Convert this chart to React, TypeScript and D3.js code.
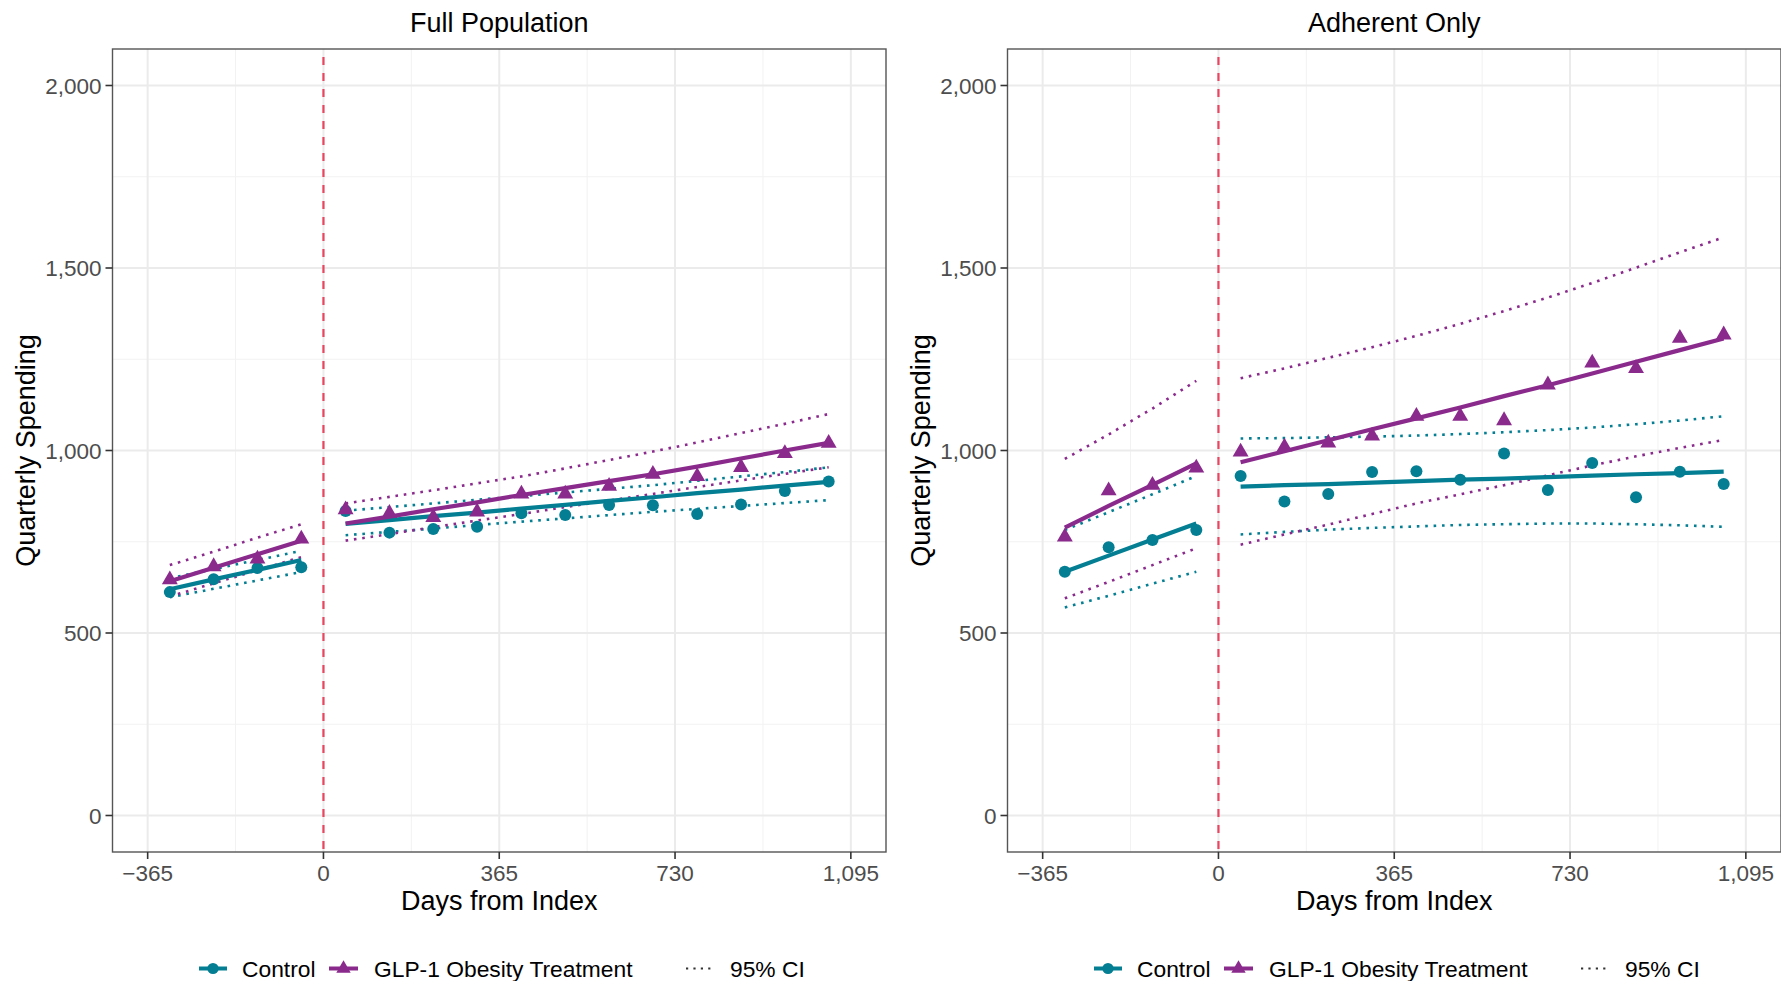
import React from 'react';
import * as d3 from 'd3';

// ---------- data ----------
const preDays = [-319, -228, -137, -46];
const postDays = [46, 137, 228, 319, 411, 502, 593, 684, 776, 867, 958, 1049];
const xTicks = [-365, 0, 365, 730, 1095];
const xMinor = [-182.5, 182.5, 547.5, 912.5];
const yTicks = [0, 500, 1000, 1500, 2000];
const yMinor = [250, 750, 1250, 1750];
const panelTitles = ['Full Population', 'Adherent Only'];
const legendLabels = ['Control', 'GLP-1 Obesity Treatment', '95% CI'];

// Full population
const fullControlPts = [612, 647, 678, 680, 834, 775, 785, 791, 828, 823, 851, 850, 826, 852, 889, 915];
const fullGlpPts = [646, 682, 703, 758, 838, 828, 817, 832, 881, 881, 902, 935, 929, 954, 992, 1020];
const fullControlFitPre = [620, 647, 673, 700];
const fullControlFitPost = [799, 809, 820, 830, 841, 851, 862, 872, 883, 893, 904, 914];
const fullGlpFitPre = [642, 679, 716, 753];
const fullGlpFitPost = [800, 819, 839, 858, 878, 897, 916, 935, 956, 978, 1000, 1021];
const fullControlLoPre = [598, 621, 644, 667];
const fullControlLoPost = [768, 777, 786, 796, 805, 814, 823, 832, 840, 848, 856, 864];
const fullControlHiPre = [650, 675, 700, 725];
const fullControlHiPost = [835, 845, 855, 865, 875, 885, 895, 905, 917, 929, 941, 954];
const fullGlpLoPre = [600, 636, 672, 708];
const fullGlpLoPost = [753, 771, 790, 808, 826, 845, 863, 881, 900, 918, 936, 954];
const fullGlpHiPre = [686, 723, 761, 798];
const fullGlpHiPost = [855, 873, 891, 910, 929, 951, 974, 997, 1022, 1048, 1073, 1100];

// Adherent only
const adhControlPts = [668, 735, 755, 782, 930, 860, 881, 941, 943, 920, 992, 892, 966, 872, 942, 908];
const adhGlpPts = [763, 890, 905, 952, 996, 1010, 1021, 1040, 1094, 1094, 1082, 1180, 1240, 1225, 1308, 1317];
const adhControlFitPre = [668, 712, 756, 800];
const adhControlFitPost = [901, 905, 908, 912, 916, 920, 923, 927, 931, 935, 938, 942];
const adhGlpFitPre = [789, 848, 906, 965];
const adhGlpFitPost = [968, 998, 1028, 1058, 1088, 1118, 1149, 1179, 1211, 1243, 1275, 1307];
const adhControlLoPre = [570, 602, 635, 668];
const adhControlLoPost = [770, 777, 783, 788, 792, 796, 798, 800, 800, 798, 795, 791];
const adhControlHiPre = [782, 831, 880, 930];
const adhControlHiPost = [1033, 1034, 1036, 1038, 1041, 1045, 1050, 1056, 1063, 1072, 1082, 1094];
const adhGlpLoPre = [595, 640, 686, 732];
const adhGlpLoPost = [742, 770, 797, 826, 855, 880, 905, 932, 959, 984, 1007, 1029];
const adhGlpHiPre = [977, 1044, 1115, 1191];
const adhGlpHiPost = [1198, 1225, 1254, 1283, 1314, 1347, 1382, 1419, 1459, 1501, 1543, 1584];

// ---------- style ----------
const TEAL = '#037E93';
const PURPLE = '#8B2A8D';
const RED = '#E8455F';
const FONT = '"Liberation Sans", Arial, Helvetica, sans-serif';

const W = 1781;
const H = 981;
const PANEL_W = 773.5;
const PANEL_TOP = 49;
const PANEL_BOTTOM = 852;
const PANEL_LEFTS = [112.5, 1007.5];

type Series = { pre: number[]; post: number[] };
type PanelData = {
  title: string;
  controlPts: number[];
  glpPts: number[];
  controlFit: Series;
  glpFit: Series;
  controlLo: Series;
  controlHi: Series;
  glpLo: Series;
  glpHi: Series;
};

const panels: PanelData[] = [
  {
    title: panelTitles[0],
    controlPts: fullControlPts,
    glpPts: fullGlpPts,
    controlFit: { pre: fullControlFitPre, post: fullControlFitPost },
    glpFit: { pre: fullGlpFitPre, post: fullGlpFitPost },
    controlLo: { pre: fullControlLoPre, post: fullControlLoPost },
    controlHi: { pre: fullControlHiPre, post: fullControlHiPost },
    glpLo: { pre: fullGlpLoPre, post: fullGlpLoPost },
    glpHi: { pre: fullGlpHiPre, post: fullGlpHiPost },
  },
  {
    title: panelTitles[1],
    controlPts: adhControlPts,
    glpPts: adhGlpPts,
    controlFit: { pre: adhControlFitPre, post: adhControlFitPost },
    glpFit: { pre: adhGlpFitPre, post: adhGlpFitPost },
    controlLo: { pre: adhControlLoPre, post: adhControlLoPost },
    controlHi: { pre: adhControlHiPre, post: adhControlHiPost },
    glpLo: { pre: adhGlpLoPre, post: adhGlpLoPost },
    glpHi: { pre: adhGlpHiPre, post: adhGlpHiPost },
  },
];

const fmt = d3.format(',');
const allDays = [...preDays, ...postDays];

function Panel({ data, left }: { data: PanelData; left: number }) {
  const x = d3.scaleLinear().domain([-438, 1168]).range([left, left + PANEL_W]);
  const y = d3.scaleLinear().domain([-100, 2100]).range([PANEL_BOTTOM, PANEL_TOP]);
  const line = d3
    .line<[number, number]>()
    .x((d) => x(d[0]))
    .y((d) => y(d[1]));
  const seg = (days: number[], vals: number[]) =>
    line(days.map((d, i) => [d, vals[i]] as [number, number])) || '';
  const segs = (s: Series) => [seg(preDays, s.pre), seg(postDays, s.post)];
  const tri = d3.symbol(d3.symbolTriangle, 110)() || '';
  const cx = left + PANEL_W / 2;
  const cy = (PANEL_TOP + PANEL_BOTTOM) / 2;
  const right = left + PANEL_W;

  const dotted = (s: Series, color: string, key: string) =>
    segs(s).map((p, i) => (
      <path
        key={key + i}
        d={p}
        fill="none"
        stroke={color}
        strokeWidth={2.6}
        strokeDasharray="2.6 5.8"
      />
    ));
  const solid = (s: Series, color: string, key: string) =>
    segs(s).map((p, i) => (
      <path key={key + i} d={p} fill="none" stroke={color} strokeWidth={4.2} />
    ));

  return (
    <g>
      {/* grid */}
      {yMinor.map((v) => (
        <line key={'ym' + v} x1={left} x2={right} y1={y(v)} y2={y(v)} stroke="#F2F2F2" strokeWidth={1} />
      ))}
      {xMinor.map((v) => (
        <line key={'xm' + v} x1={x(v)} x2={x(v)} y1={PANEL_TOP} y2={PANEL_BOTTOM} stroke="#F2F2F2" strokeWidth={1} />
      ))}
      {yTicks.map((v) => (
        <line key={'yg' + v} x1={left} x2={right} y1={y(v)} y2={y(v)} stroke="#EBEBEB" strokeWidth={2} />
      ))}
      {xTicks.map((v) => (
        <line key={'xg' + v} x1={x(v)} x2={x(v)} y1={PANEL_TOP} y2={PANEL_BOTTOM} stroke="#EBEBEB" strokeWidth={2} />
      ))}
      {/* vertical index line */}
      <line x1={x(0)} x2={x(0)} y1={PANEL_TOP} y2={PANEL_BOTTOM} stroke={RED} strokeWidth={2.2} strokeDasharray="8 8" strokeDashoffset={-8} />
      {/* CIs */}
      {dotted(data.controlLo, TEAL, 'cl')}
      {dotted(data.controlHi, TEAL, 'ch')}
      {dotted(data.glpLo, PURPLE, 'gl')}
      {dotted(data.glpHi, PURPLE, 'gh')}
      {/* fits */}
      {solid(data.controlFit, TEAL, 'cf')}
      {solid(data.glpFit, PURPLE, 'gf')}
      {/* points */}
      {data.controlPts.map((v, i) => (
        <circle key={'cp' + i} cx={x(allDays[i])} cy={y(v)} r={6} fill={TEAL} />
      ))}
      {data.glpPts.map((v, i) => (
        <path key={'gp' + i} d={tri} transform={`translate(${x(allDays[i])},${y(v)})`} fill={PURPLE} />
      ))}
      {/* border */}
      <rect x={left} y={PANEL_TOP} width={PANEL_W} height={PANEL_BOTTOM - PANEL_TOP} fill="none" stroke="#555555" strokeWidth={1.4} />
      {/* y axis */}
      {yTicks.map((v) => (
        <g key={'yt' + v}>
          <line x1={left - 7} x2={left} y1={y(v)} y2={y(v)} stroke="#333333" strokeWidth={1.6} />
          <text x={left - 11} y={y(v)} dy="0.36em" textAnchor="end" fontSize={22.5} fill="#4D4D4D" fontFamily={FONT}>
            {fmt(v)}
          </text>
        </g>
      ))}
      {/* x axis */}
      {xTicks.map((v) => (
        <g key={'xt' + v}>
          <line x1={x(v)} x2={x(v)} y1={PANEL_BOTTOM} y2={PANEL_BOTTOM + 7} stroke="#333333" strokeWidth={1.6} />
          <text x={x(v)} y={881} textAnchor="middle" fontSize={22.5} fill="#4D4D4D" fontFamily={FONT}>
            {fmt(v)}
          </text>
        </g>
      ))}
      <text x={cx} y={909.5} textAnchor="middle" fontSize={27} fill="#000" fontFamily={FONT}>
        Days from Index
      </text>
      <text
        transform={`translate(${left - 78},${cy}) rotate(-90)`}
        textAnchor="middle"
        fontSize={27}
        fill="#000"
        fontFamily={FONT}
      >
        Quarterly Spending
      </text>
      <text x={cx} y={32} textAnchor="middle" fontSize={27} fill="#000" fontFamily={FONT}>
        {data.title}
      </text>
      {/* legend */}
      <Legend offset={left - 112.5} />
    </g>
  );
}

function Legend({ offset }: { offset: number }) {
  const ly = 968.5;
  const tri = d3.symbol(d3.symbolTriangle, 90)() || '';
  return (
    <g transform={`translate(${offset},0)`}>
      <line x1={199} x2={227} y1={ly} y2={ly} stroke={TEAL} strokeWidth={4} />
      <circle cx={213} cy={ly} r={5.6} fill={TEAL} />
      <text x={242} y={ly} dy="0.36em" fontSize={22.8} fontFamily={FONT} fill="#000">
        {legendLabels[0]}
      </text>
      <line x1={329} x2={358} y1={ly} y2={ly} stroke={PURPLE} strokeWidth={4} />
      <path d={tri} transform={`translate(343.5,${ly})`} fill={PURPLE} />
      <text x={374} y={ly} dy="0.36em" fontSize={22.8} fontFamily={FONT} fill="#000">
        {legendLabels[1]}
      </text>
      <line x1={686} x2={715} y1={ly} y2={ly} stroke="#333333" strokeWidth={2.2} strokeDasharray="2.2 5.2" />
      <text x={730} y={ly} dy="0.36em" fontSize={22.8} fontFamily={FONT} fill="#000">
        {legendLabels[2]}
      </text>
    </g>
  );
}

export default function App() {
  return (
    <svg
      width={W}
      height={H}
      viewBox={`0 0 ${W} ${H}`}
      style={{ position: 'absolute', left: 0, top: 0, background: '#fff' }}
    >
      <rect x={0} y={0} width={W} height={H} fill="#fff" />
      {panels.map((p, i) => (
        <Panel key={i} data={p} left={PANEL_LEFTS[i]} />
      ))}
    </svg>
  );
}
